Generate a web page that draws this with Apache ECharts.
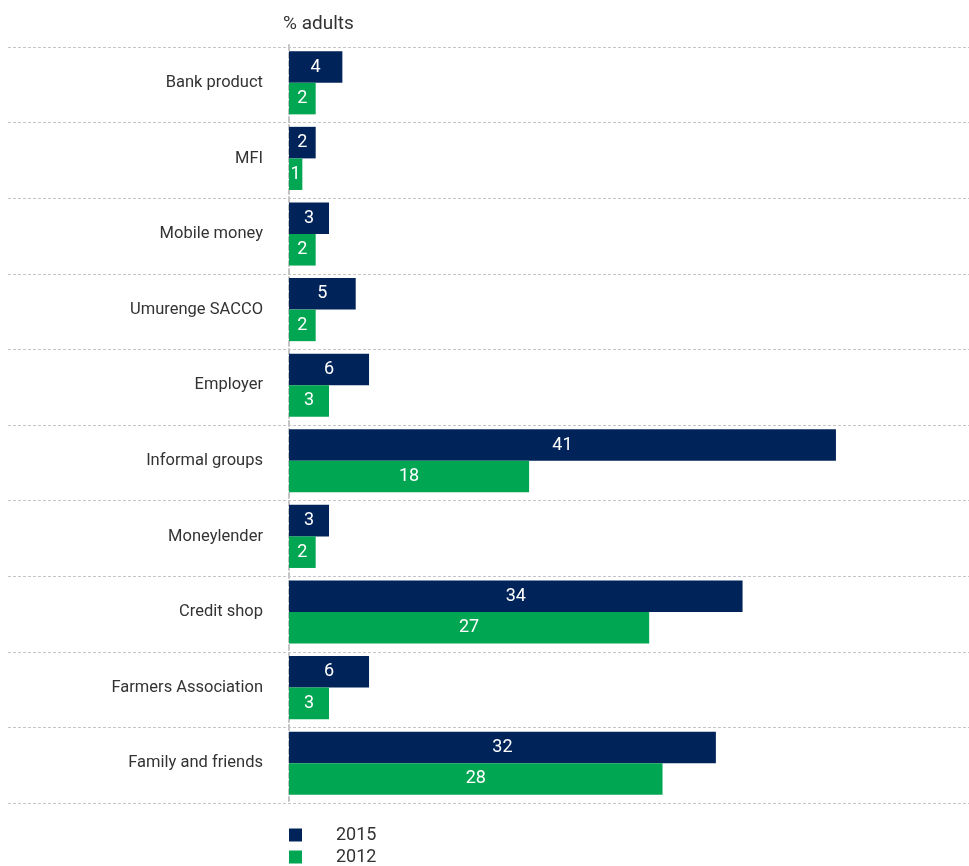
<!DOCTYPE html>
<html>
<head>
<meta charset="utf-8">
<script src="https://cdn.jsdelivr.net/npm/echarts@6/dist/echarts.min.js"></script>
<style>
  html, body { margin: 0; padding: 0; background: #fff; }
  #chart { width: 969px; height: 866px; }
</style>
</head>
<body>
<div id="chart"></div>
<script>
// categories, top to bottom
var categories = ['Bank product', 'MFI', 'Mobile money', 'Umurenge SACCO', 'Employer',
  'Informal groups', 'Moneylender', 'Credit shop', 'Farmers Association', 'Family and friends'];
var years = ['2015', '2012'];
var values2015 = [4, 2, 3, 5, 6, 41, 3, 34, 6, 32];
var values2012 = [2, 1, 2, 2, 3, 18, 2, 27, 3, 28];

var navy = '#00245a';
var green = '#00a651';
var font = 'Roboto, "Liberation Sans", Arial, sans-serif';

var chart = echarts.init(document.getElementById('chart'));

var labelStyle = {
  show: true,
  position: 'inside',
  color: '#fff',
  fontSize: 18,
  fontFamily: font
};

// one legend per year so they stack like the original
function legendFor(name, top) {
  return {
    left: 289,
    top: top,
    padding: 0,
    itemWidth: 13,
    itemHeight: 13,
    icon: 'rect',
    selectedMode: false,
    data: [name],
    textStyle: { fontSize: 18, color: '#333', fontFamily: font, padding: [0, 0, 0, 29] }
  };
}

chart.setOption({
  animation: false,
  title: {
    text: '% adults',
    left: 278,
    top: 10,
    textStyle: { fontSize: 19, fontWeight: 'normal', color: '#333', fontFamily: font }
  },
  legend: [legendFor(years[0], 826), legendFor(years[1], 848)],
  grid: [
    { left: 289, right: 13, top: 45, bottom: 65 },
    { left: 8, right: 0, top: 47, bottom: 63 } // just for the separator lines
  ],
  xAxis: [
    { gridIndex: 0, type: 'value', min: 0, max: 50, show: false },
    { gridIndex: 1, type: 'value', min: 0, max: 1, show: false }
  ],
  yAxis: [
    {
      gridIndex: 0,
      type: 'category',
      data: categories,
      inverse: true,
      offset: 14,
      axisLine: { show: true, lineStyle: { color: '#c4c4c4', width: 2, type: [5, 3] } },
      axisTick: { show: false },
      axisLabel: { margin: 12, fontSize: 16.5, color: '#333', fontFamily: font },
      splitLine: { show: false }
    },
    {
      gridIndex: 1,
      type: 'category',
      data: categories,
      inverse: true,
      axisLine: { show: false },
      axisTick: { show: false },
      axisLabel: { show: false },
      splitLine: { show: true, lineStyle: { color: '#c4c4c4', width: 1, type: [3, 2] } }
    }
  ],
  series: [
    {
      name: '2015',
      type: 'bar',
      xAxisIndex: 0,
      yAxisIndex: 0,
      data: values2015,
      itemStyle: { color: navy },
      barGap: 0,
      barCategoryGap: '16.5%',
      label: labelStyle
    },
    {
      name: '2012',
      type: 'bar',
      xAxisIndex: 0,
      yAxisIndex: 0,
      data: values2012,
      itemStyle: { color: green },
      barGap: 0,
      barCategoryGap: '16.5%',
      label: labelStyle
    }
  ]
});
</script>
</body>
</html>
